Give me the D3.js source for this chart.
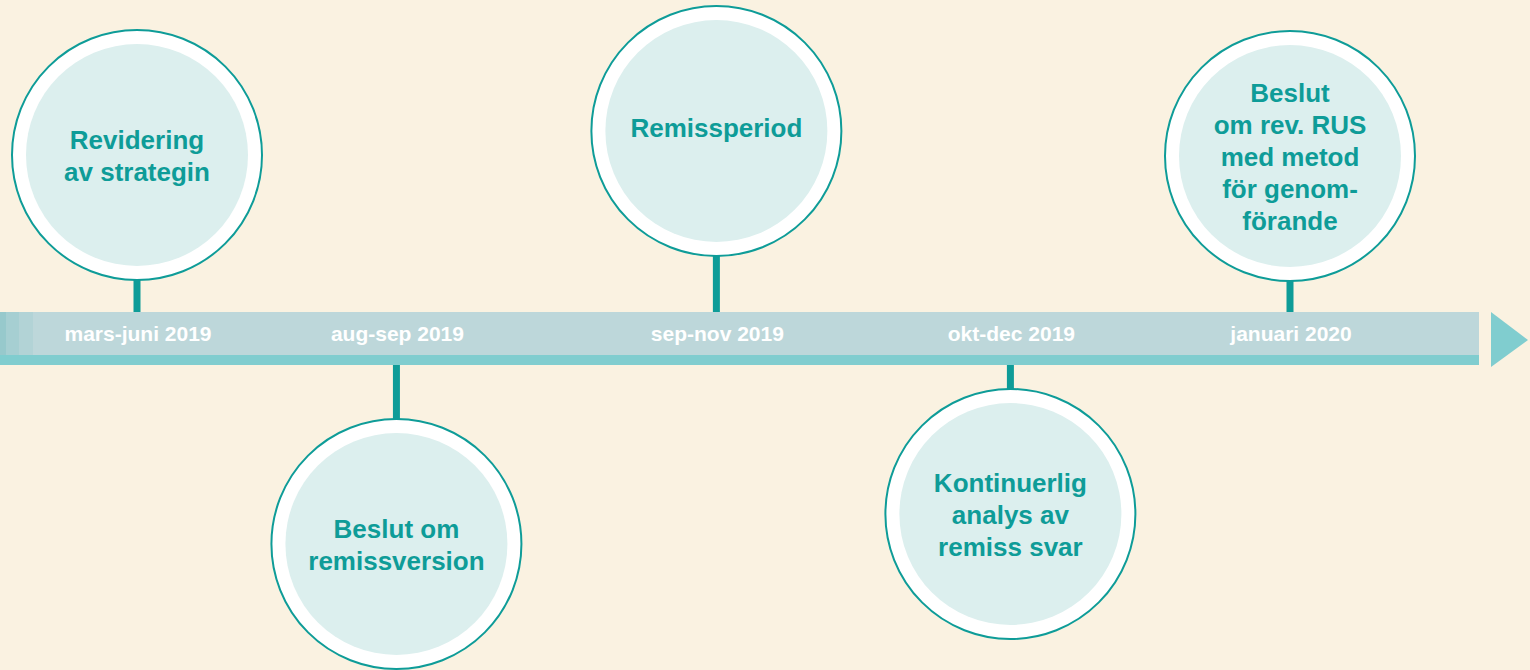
<!DOCTYPE html>
<html>
<head>
<meta charset="utf-8">
<script src="https://cdn.jsdelivr.net/npm/d3@7"></script>
<style>
  html, body { margin: 0; padding: 0; background: #FAF2E1; }
  svg { display: block; }
</style>
</head>
<body>
<div class="chart"></div>
<script>
// timeline data
var periods = ["mars-juni 2019", "aug-sep 2019", "sep-nov 2019", "okt-dec 2019", "januari 2020"];
// position of each milestone along the timeline (in steps)
var steps = [0, 0.9, 2.01, 3.03, 4.0];
var sides = ["up", "down", "up", "down", "up"];
var captions = [
  ["Revidering", "av strategin"],
  ["Beslut om", "remissversion"],
  ["Remissperiod"],
  ["Kontinuerlig", "analys av", "remiss svar"],
  ["Beslut", "om rev. RUS", "med metod", "för genom-", "förande"]
];

// layout
var svgWidth = 1530, svgHeight = 670;
var barTop = 312, barMid = 355, barBottom = 365, barEnd = 1479;
var outerR = 125, innerR = 111;
var stemLen = [32, 54, 56, 24, 31];
var textShift = [0, 0, -4, 0, 0];
var teal = "#0E9C98";

var events = periods.map(function(p, i) {
  return { period: p, step: steps[i], side: sides[i], lines: captions[i], stem: stemLen[i], shift: textShift[i] };
});

var svg = d3.select(".chart").append("svg")
  .attr("width", svgWidth)
  .attr("height", svgHeight);

svg.append("rect")
  .attr("width", svgWidth).attr("height", svgHeight)
  .attr("fill", "#FAF2E1");

var x = d3.scaleLinear()
  .domain(d3.extent(steps))
  .range([137, 1290]);

// the bar
svg.append("rect")
  .attr("x", 0).attr("y", barTop)
  .attr("width", barEnd).attr("height", barMid - barTop)
  .attr("fill", "#BDD7DA");
svg.append("rect")
  .attr("x", 0).attr("y", barMid)
  .attr("width", barEnd).attr("height", barBottom - barMid)
  .attr("fill", "#80CDCF");

// faded start of the bar
var fades = [[0, 6, "#97C9CC"], [6, 19, "#A6CFD2"], [19, 33, "#B2D3D6"]];
svg.selectAll(".fade")
  .data(fades)
  .enter()
  .append("rect")
  .attr("class", "fade")
  .attr("x", d => d[0]).attr("y", barTop)
  .attr("width", d => d[1] - d[0]).attr("height", barMid - barTop)
  .attr("fill", d => d[2]);

// arrow head
svg.append("path")
  .attr("d", d3.line()([[1491, barTop], [1528, 340], [1491, barBottom + 2]]) + "Z")
  .attr("fill", "#80CDCF");

function cy(d) {
  return d.side == "up" ? barTop - d.stem - outerR : barBottom + d.stem + outerR;
}

// stems
svg.selectAll(".stem")
  .data(events)
  .enter()
  .append("rect")
  .attr("class", "stem")
  .attr("x", d => x(d.step) - 3.5)
  .attr("y", d => d.side == "up" ? barTop - d.stem - 1 : barBottom)
  .attr("width", 7)
  .attr("height", d => d.stem + 1)
  .attr("fill", teal);

// period labels on the bar
svg.selectAll(".period")
  .data(events)
  .enter()
  .append("text")
  .attr("class", "period")
  .attr("x", d => x(d.step) + 1)
  .attr("y", 341)
  .attr("text-anchor", "middle")
  .attr("font-family", "'Liberation Sans', Arial, sans-serif")
  .attr("font-weight", "bold")
  .attr("font-size", "21px")
  .attr("fill", "#FFFFFF")
  .text(d => d.period);

// milestone circles
var nodes = svg.selectAll(".node")
  .data(events)
  .enter()
  .append("g")
  .attr("class", "node")
  .attr("transform", d => `translate(${x(d.step)}, ${cy(d)})`);

nodes.append("circle")
  .attr("r", outerR)
  .attr("fill", "#FFFFFF")
  .attr("stroke", teal)
  .attr("stroke-width", 2);

nodes.append("circle")
  .attr("r", innerR)
  .attr("fill", "#DCEFEE");

nodes.each(function(d) {
  var g = d3.select(this);
  var n = d.lines.length;
  d.lines.forEach(function(line, i) {
    g.append("text")
      .attr("x", 0)
      .attr("y", (i - (n - 1) / 2) * 32 + 9.5 + d.shift)
      .attr("text-anchor", "middle")
      .attr("font-family", "'Liberation Sans', Arial, sans-serif")
      .attr("font-weight", "bold")
      .attr("font-size", "26px")
      .attr("fill", teal)
      .text(line);
  });
});
</script>
</body>
</html>
